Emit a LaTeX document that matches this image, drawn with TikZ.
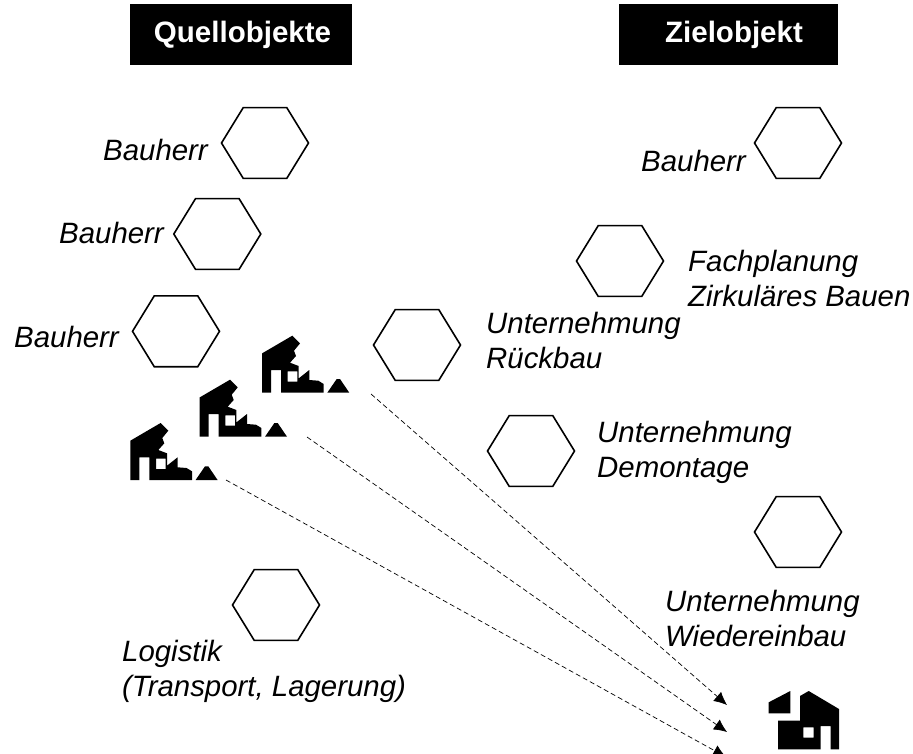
\documentclass[tikz,border=0pt]{standalone}
\usepackage{fontspec}
\setmainfont{Liberation Sans}
\usetikzlibrary{shapes.geometric,arrows.meta}
\tikzset{
    hexa/.style={draw, regular polygon, regular polygon sides=6, minimum size=87pt, inner sep=0pt, line width=1.6pt, yscale=0.94, transform shape},
    header/.style={fill=black, text=white, font=\fontsize{29.5}{30}\selectfont\bfseries, minimum width=222pt, minimum height=61pt, inner sep=0pt},
    lbl/.style={font=\fontsize{29.4}{35}\selectfont\itshape, anchor=west, align=left, inner sep=0pt},
    link/.style={dash pattern=on 5pt off 3pt, line width=0.7pt, -{Latex[length=13pt,width=12pt]}}
}
\newcommand{\ruin}[1]{
    \begin{scope}[shift={#1}]
        \fill[even odd rule] (0,0) -- (0,-39.3) -- (30.3,-57) -- (38,-49.3) -- (32,-42) -- (34,-36.7) -- (28,-30) -- (36.7,-26.7) -- (36.7,-14.3) -- (47.3,-22.7) -- (47.3,-12.7) -- (56.3,-12) -- (61.7,-8.7) -- (61.7,0) -- (19,0) -- (19,-22.7) -- (9,-22.7) -- (9,0) -- cycle
            (25.7,-21.3) rectangle (35.3,-11);
        \fill (65.3,0) -- (74.7,-13.7) -- (78,-13.7) -- (87.3,0) -- cycle;
    \end{scope}
}
\newcommand{\home}[1]{
    \begin{scope}[shift={#1}]
        \fill (-9.3,-47) -- (12.3,-58.3) -- (12.3,-36) -- (-9.3,-36) -- cycle;
        \fill[even odd rule] (22,-53.3) -- (30.7,-58.3) -- (61,-40.3) -- (61,0) -- (52.7,0) -- (52.7,-23.3) -- (42.7,-23.3) -- (42.7,0) -- (0,0) -- (0,-28.7) -- (22,-28.7) -- cycle
            (25.3,-22) rectangle (35.7,-11.7);
    \end{scope}
}
\begin{document}
\begin{tikzpicture}[x=1pt,y=-1pt]
    \useasboundingbox (0,0) rectangle (913,753);

    \node[header] (quelle) at (241,34.5) {\hspace{3pt}Quellobjekte};
    \node[header, minimum width=219pt] (ziel) at (728.5,34.5) {\hspace{11pt}Zielobjekt};

    % Quellobjekte
    \node[hexa] (hexa1) at (265,143) {};
    \node[hexa] (hexa2) at (217.3,234) {};
    \node[hexa] (hexa3) at (176,331.3) {};
    \node[hexa] (hexa4) at (276,605) {};
    \node[lbl] (bau1) at (103,150) {Bauherr};
    \node[lbl] (bau2) at (59,233) {Bauherr};
    \node[lbl] (bau3) at (14,337) {Bauherr};
    \node[lbl] (logistik) at (122,671.5) {Logistik\\(Transport, Lagerung)};

    % Zielobjekt
    \node[hexa] (hexa5) at (798,143) {};
    \node[hexa] (hexa6) at (620,261) {};
    \node[hexa] (hexa7) at (417,345) {};
    \node[hexa] (hexa8) at (531,451) {};
    \node[hexa] (hexa9) at (798,532) {};
    \node[lbl] (bau4) at (641,161) {Bauherr};
    \node[lbl] (fach) at (688,278) {Fachplanung\\Zirkuläres Bauen};
    \node[lbl] (rueck) at (486,340) {Unternehmung\\Rückbau};
    \node[lbl] (demontage) at (597,452.5) {Unternehmung\\Demontage};
    \node[lbl] (wieder) at (665,618) {Unternehmung\\Wiedereinbau};

    \ruin{(262,392.7)}
    \ruin{(199.7,436.7)}
    \ruin{(130.3,480)}
    \home{(778,749.3)}

    \coordinate (from1) at (371,394);
    \coordinate (from2) at (307,437);
    \coordinate (from3) at (226,480);
    \coordinate (to1) at (727,705);
    \coordinate (to2) at (727,732);
    \coordinate (to3) at (726,757);
    \draw[link] (from1) -- (to1);
    \draw[link] (from2) -- (to2);
    \draw[link] (from3) -- (to3);
\end{tikzpicture}
\end{document}
